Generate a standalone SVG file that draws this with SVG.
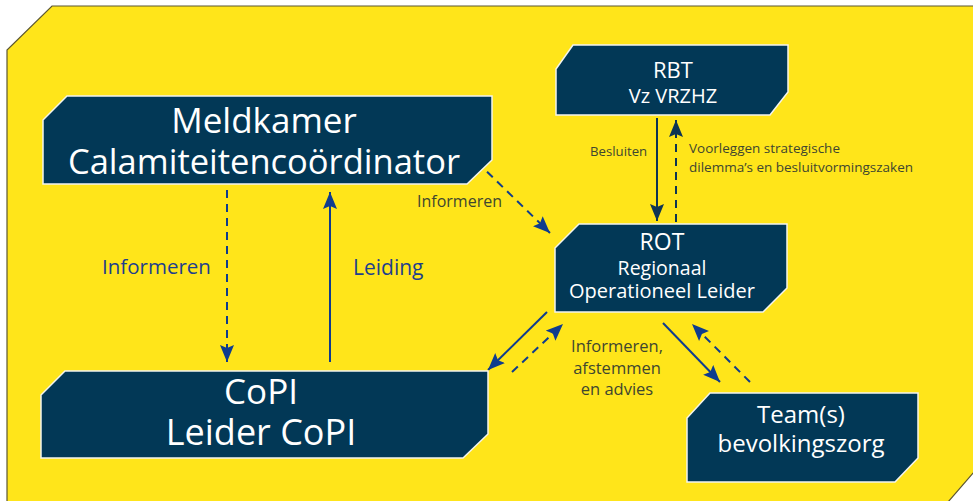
<svg xmlns="http://www.w3.org/2000/svg" width="973" height="501" viewBox="0 0 973 501">
<style>
.bg{fill:#FFE51A;stroke:#5b5633;stroke-width:1.2}
.node{fill:#023856;stroke:#f4f4ee;stroke-width:1.5}
.nt{fill:#ffffff;font-family:"Open Sans","Noto Sans",sans-serif;text-anchor:middle}
.lb{fill:#3e4630;font-family:"Open Sans","Noto Sans",sans-serif}
.lbb{fill:#1e3f8c;font-family:"Open Sans","Noto Sans",sans-serif}
.a{stroke:#0f3c8e;stroke-width:2;fill:none}
.an{stroke:#0e3553;stroke-width:2;fill:none}
.d{stroke-dasharray:8 6}
</style>
<defs>
<marker id="ah" markerUnits="userSpaceOnUse" markerWidth="18" markerHeight="15" refX="17" refY="7.5" orient="auto">
<path d="M0,0.5 L17,7.5 L0,14.5 L3,7.5 z" fill="#0f3c8e"/>
</marker>
<marker id="ahn" markerUnits="userSpaceOnUse" markerWidth="18" markerHeight="15" refX="17" refY="7.5" orient="auto">
<path d="M0,0.5 L17,7.5 L0,14.5 L3,7.5 z" fill="#0e3553"/>
</marker>
</defs>
<polygon class="bg" points="52,6 974,6 974,472 948,502 7,502 7,50"/>
<g id="connectors">
<line class="a d" x1="227" y1="190" x2="227" y2="362" marker-end="url(#ah)"/>
<line class="a" x1="330" y1="362" x2="330" y2="192" marker-end="url(#ah)"/>
<line class="a d" x1="477" y1="162" x2="550" y2="233" marker-end="url(#ah)"/>
<line class="an" x1="657" y1="118" x2="657" y2="221" marker-end="url(#ahn)"/>
<line class="an d" x1="676" y1="222" x2="676" y2="120" marker-end="url(#ahn)"/>
<line class="a" x1="547" y1="312" x2="488" y2="370" marker-end="url(#ah)"/>
<line class="a d" x1="512" y1="372" x2="563" y2="324" marker-end="url(#ah)"/>
<line class="a" x1="663" y1="323" x2="720" y2="382" marker-end="url(#ah)"/>
<line class="a d" x1="750" y1="382" x2="692" y2="324" marker-end="url(#ah)"/>
<text class="lbb" x="102" y="274" font-size="20.5">Informeren</text>
<text class="lbb" x="353" y="275" font-size="21">Leiding</text>
<text class="lb" x="417" y="207" font-size="16">Informeren</text>
<text class="lb" x="590" y="156" font-size="13.2">Besluiten</text>
<text class="lb" x="689" y="153" font-size="13.5">Voorleggen strategische</text>
<text class="lb" x="689" y="172" font-size="13.5">dilemma’s en besluitvormingszaken</text>
<text class="lb" x="617" y="352" font-size="16.5" text-anchor="middle">Informeren,</text>
<text class="lb" x="617" y="374" font-size="16.5" text-anchor="middle">afstemmen</text>
<text class="lb" x="617" y="395" font-size="16.5" text-anchor="middle">en advies</text>
</g>
<g id="meldkamer">
<polygon class="node" points="67,96 492,96 492,160 467,184 43,184 43,120"/>
<text class="nt" x="264" y="133" font-size="35">Meldkamer</text>
<text class="nt" x="264" y="174" font-size="34.5">Calamiteitencoördinator</text>
</g>
<g id="copi">
<polygon class="node" points="65,371 488,371 488,434 463,458 41,458 41,395"/>
<text class="nt" x="261" y="404" font-size="35">CoPI</text>
<text class="nt" x="261" y="445" font-size="36">Leider CoPI</text>
</g>
<g id="rbt">
<polygon class="node" points="573,45 788,45 788,92 770,115 556,115 556,69"/>
<text class="nt" x="673" y="78" font-size="22">RBT</text>
<text class="nt" x="673" y="103" font-size="20">Vz VRZHZ</text>
</g>
<g id="rot">
<polygon class="node" points="579,224 787,224 787,288 763,312 555,312 555,248"/>
<text class="nt" x="662" y="250" font-size="23">ROT</text>
<text class="nt" x="662" y="275" font-size="19.5">Regionaal</text>
<text class="nt" x="662" y="298" font-size="20">Operationeel Leider</text>
</g>
<g id="teams">
<polygon class="node" points="710,393 918,393 918,458 895,482 687,482 687,418"/>
<text class="nt" x="801" y="423" font-size="24">Team(s)</text>
<text class="nt" x="801" y="452" font-size="24">bevolkingszorg</text>
</g>
</svg>
